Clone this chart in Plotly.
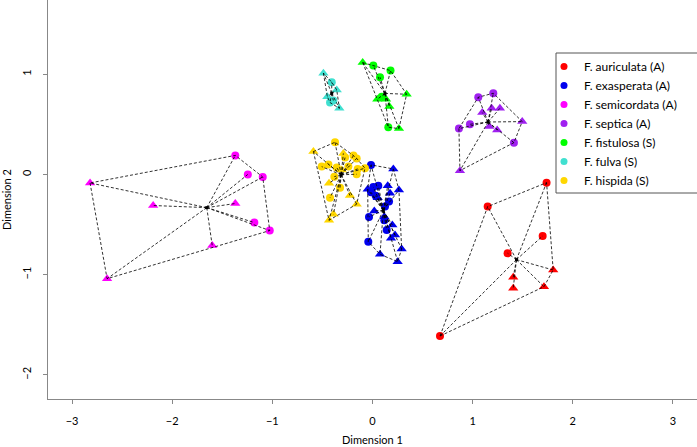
import numpy as np
import plotly.graph_objects as go

# ---------------- data ----------------
species = ["F. auriculata (A)", "F. exasperata (A)", "F. semicordata (A)",
           "F. septica (A)", "F. fistulosa (S)", "F. fulva (S)", "F. hispida (S)"]
colors = ["#FF0000", "#0000EE", "#FF00FF", "#A020F0", "#00FF00", "#40E0D0", "#FFD700"]

auriculata_x = [1.738, 1.150, 1.699, 1.349, 1.804, 1.405, 1.405, 1.712, 0.674]
auriculata_y = [-0.082, -0.321, -0.614, -0.786, -0.953, -1.026, -1.136, -1.120, -1.612]
auriculata_shape = ["c", "c", "c", "c", "t", "t", "t", "t", "c"]

exasperata_x = [-0.015, 0.208, 0.058, 0.008, -0.048, 0.152, 0.264, -0.015, 0.175, 0.032,
                0.052, 0.165, 0.125, 0.018, -0.035, 0.118, 0.118, 0.198, 0.142, 0.225,
                0.185, -0.042, 0.291, 0.075, 0.251]
exasperata_y = [0.095, 0.055, -0.112, -0.125, -0.148, -0.112, -0.155, -0.178, -0.188, -0.212,
                -0.232, -0.271, -0.321, -0.364, -0.424, -0.421, -0.457, -0.504, -0.554, -0.604,
                -0.637, -0.671, -0.744, -0.797, -0.870]
exasperata_shape = ["c", "t", "c", "c", "t", "t", "t", "c", "t", "c",
                    "t", "c", "c", "t", "c", "t", "c", "t", "c", "t",
                    "t", "c", "t", "t", "t"]

semicordata_x = [-2.82, -1.37, -1.245, -1.096, -2.19, -1.37, -1.18, -1.026, -1.60, -2.65]
semicordata_y = [-0.085, 0.19, 0.0, -0.025, -0.31, -0.29, -0.48, -0.56, -0.71, -1.04]
semicordata_shape = ["t", "c", "c", "c", "t", "t", "c", "c", "t", "t"]

septica_x = [1.056, 1.206, 1.190, 1.272, 1.096, 0.973, 0.863, 1.166, 1.245, 1.495, 1.412, 0.873]
septica_y = [0.770, 0.810, 0.660, 0.660, 0.617, 0.500, 0.457, 0.477, 0.444, 0.527, 0.317, 0.038]
septica_shape = ["c", "c", "t", "t", "t", "c", "c", "t", "t", "t", "c", "t"]

fistulosa_x = [-0.098, 0.008, 0.180, 0.075, 0.341, 0.048, 0.092, 0.135, 0.168, 0.158, 0.264]
fistulosa_y = [1.116, 1.086, 1.036, 0.970, 0.800, 0.750, 0.776, 0.750, 0.677, 0.471, 0.457]
fistulosa_shape = ["t", "c", "c", "c", "t", "t", "c", "t", "t", "c", "t"]

fulva_x = [-0.490, -0.407, -0.357, -0.451, -0.391, -0.424, -0.331]
fulva_y = [1.010, 0.920, 0.843, 0.776, 0.737, 0.717, 0.660]
fulva_shape = ["t", "c", "t", "t", "c", "c", "t"]

hispida_x = [-0.590, -0.374, -0.291, -0.190, -0.158, -0.274, -0.507, -0.440, -0.357, -0.241,
             -0.148, -0.075, -0.307, -0.158, -0.381, -0.434, -0.324, -0.424, -0.225, -0.158,
             -0.390, -0.434]
hispida_y = [0.228, 0.321, 0.210, 0.188, 0.160, 0.168, 0.078, 0.100, 0.068, 0.078,
             0.055, 0.062, 0.045, 0.002, -0.022, -0.088, -0.132, -0.232, -0.211, -0.297,
             -0.397, -0.457]
hispida_shape = ["t", "c", "t", "c", "c", "c", "c", "c", "c", "c",
                 "c", "c", "t", "c", "c", "t", "c", "c", "t", "t",
                 "t", "t"]

groups = [
    (auriculata_x, auriculata_y, auriculata_shape),
    (exasperata_x, exasperata_y, exasperata_shape),
    (semicordata_x, semicordata_y, semicordata_shape),
    (septica_x, septica_y, septica_shape),
    (fistulosa_x, fistulosa_y, fistulosa_shape),
    (fulva_x, fulva_y, fulva_shape),
    (hispida_x, hispida_y, hispida_shape),
]

x_ticks = [-3, -2, -1, 0, 1, 2, 3]
y_ticks = [-2, -1, 0, 1]


def convex_hull(points):
    pts = sorted(set(points))
    if len(pts) <= 2:
        return pts

    def cross(o, a, b):
        return (a[0] - o[0]) * (b[1] - o[1]) - (a[1] - o[1]) * (b[0] - o[0])

    lower, upper = [], []
    for p in pts:
        while len(lower) >= 2 and cross(lower[-2], lower[-1], p) <= 0:
            lower.pop()
        lower.append(p)
    for p in reversed(pts):
        while len(upper) >= 2 and cross(upper[-2], upper[-1], p) <= 0:
            upper.pop()
        upper.append(p)
    return lower[:-1] + upper[:-1]


FONT = "Lato"
fig = go.Figure()
DASH = "3px,2px"

for (gx, gy, gs), col in zip(groups, colors):
    gx = np.array(gx)
    gy = np.array(gy)
    gs = np.array(gs)
    # points
    for shp, sym, size in (("c", "circle", 8), ("t", "triangle-up", 9)):
        m = gs == shp
        fig.add_trace(go.Scatter(x=gx[m], y=gy[m], mode="markers",
                                 marker=dict(symbol=sym, size=size, color=col,
                                             line=dict(width=0)),
                                 showlegend=False, hoverinfo="skip"))
    # spider + hull
    cx, cy = gx.mean(), gy.mean()
    lx, ly = [], []
    for px, py in zip(gx, gy):
        lx += [cx, px, None]
        ly += [cy, py, None]
    hull = convex_hull(list(zip(gx.tolist(), gy.tolist())))
    hull = hull + [hull[0]]
    lx += [p[0] for p in hull]
    ly += [p[1] for p in hull]
    fig.add_trace(go.Scatter(x=lx, y=ly, mode="lines",
                             line=dict(color="rgba(0,0,0,0.8)", width=1, dash=DASH),
                             showlegend=False, hoverinfo="skip", connectgaps=False))
    fig.add_trace(go.Scatter(x=[cx], y=[cy], mode="markers",
                             marker=dict(symbol="square", size=3, color="black"),
                             showlegend=False, hoverinfo="skip"))

# legend entries
for name, col in zip(species, colors):
    fig.add_trace(go.Scatter(x=[None], y=[None], mode="markers", name=name,
                             marker=dict(symbol="circle", size=7, color=col)))

W, H = 697, 447
ml, mr, mt, mb = 48, 0, 0, 48
pw, ph = W - ml - mr, H - mt - mb


def px2paper_x(px):
    return (px - ml) / pw


def px2paper_y(py):
    return (H - mb - py) / ph


fig.update_layout(
    width=W, height=H,
    margin=dict(l=ml, r=mr, t=mt, b=mb, autoexpand=False),
    paper_bgcolor="white", plot_bgcolor="white",
    font=dict(family=FONT, size=11, color="#000"),
    showlegend=True,
    legend=dict(x=px2paper_x(544), y=px2paper_y(52), xanchor="left", yanchor="top",
                bgcolor="rgba(0,0,0,0)", borderwidth=0,
                font=dict(family=FONT, size=12, color="#000")),
    shapes=[dict(type="rect", xref="paper", yref="paper",
                 x0=px2paper_x(556), x1=px2paper_x(720),
                 y0=px2paper_y(193), y1=px2paper_y(53),
                 line=dict(color="#555", width=1), fillcolor="rgba(0,0,0,0)")],
)

fig.update_xaxes(range=[-3.24, 3.24], tickvals=x_ticks, ticktext=[f"{v:g}".replace("-", "\u2212") for v in x_ticks],
                 showgrid=False, zeroline=False, showline=True, linecolor="#888", linewidth=1.2,
                 ticks="outside", ticklen=4, tickcolor="#888", ticklabelstandoff=8,
                 title=dict(text="Dimension 1", standoff=10, font=dict(size=11)))
fig.update_yaxes(range=[-2.24, 1.74], tickvals=y_ticks, ticktext=[f"{v:g}".replace("-", "\u2212") for v in y_ticks],
                 showgrid=False, zeroline=False, showline=True, linecolor="#888", linewidth=1.2,
                 ticks="outside", ticklen=4, tickcolor="#888", tickangle=-90, ticklabelstandoff=8,
                 title=dict(text="Dimension 2", standoff=6, font=dict(size=11)))

fig.write_html("out.html", config={"displayModeBar": False},
               post_script="document.body.style.margin='0';document.body.style.overflow='hidden';")
